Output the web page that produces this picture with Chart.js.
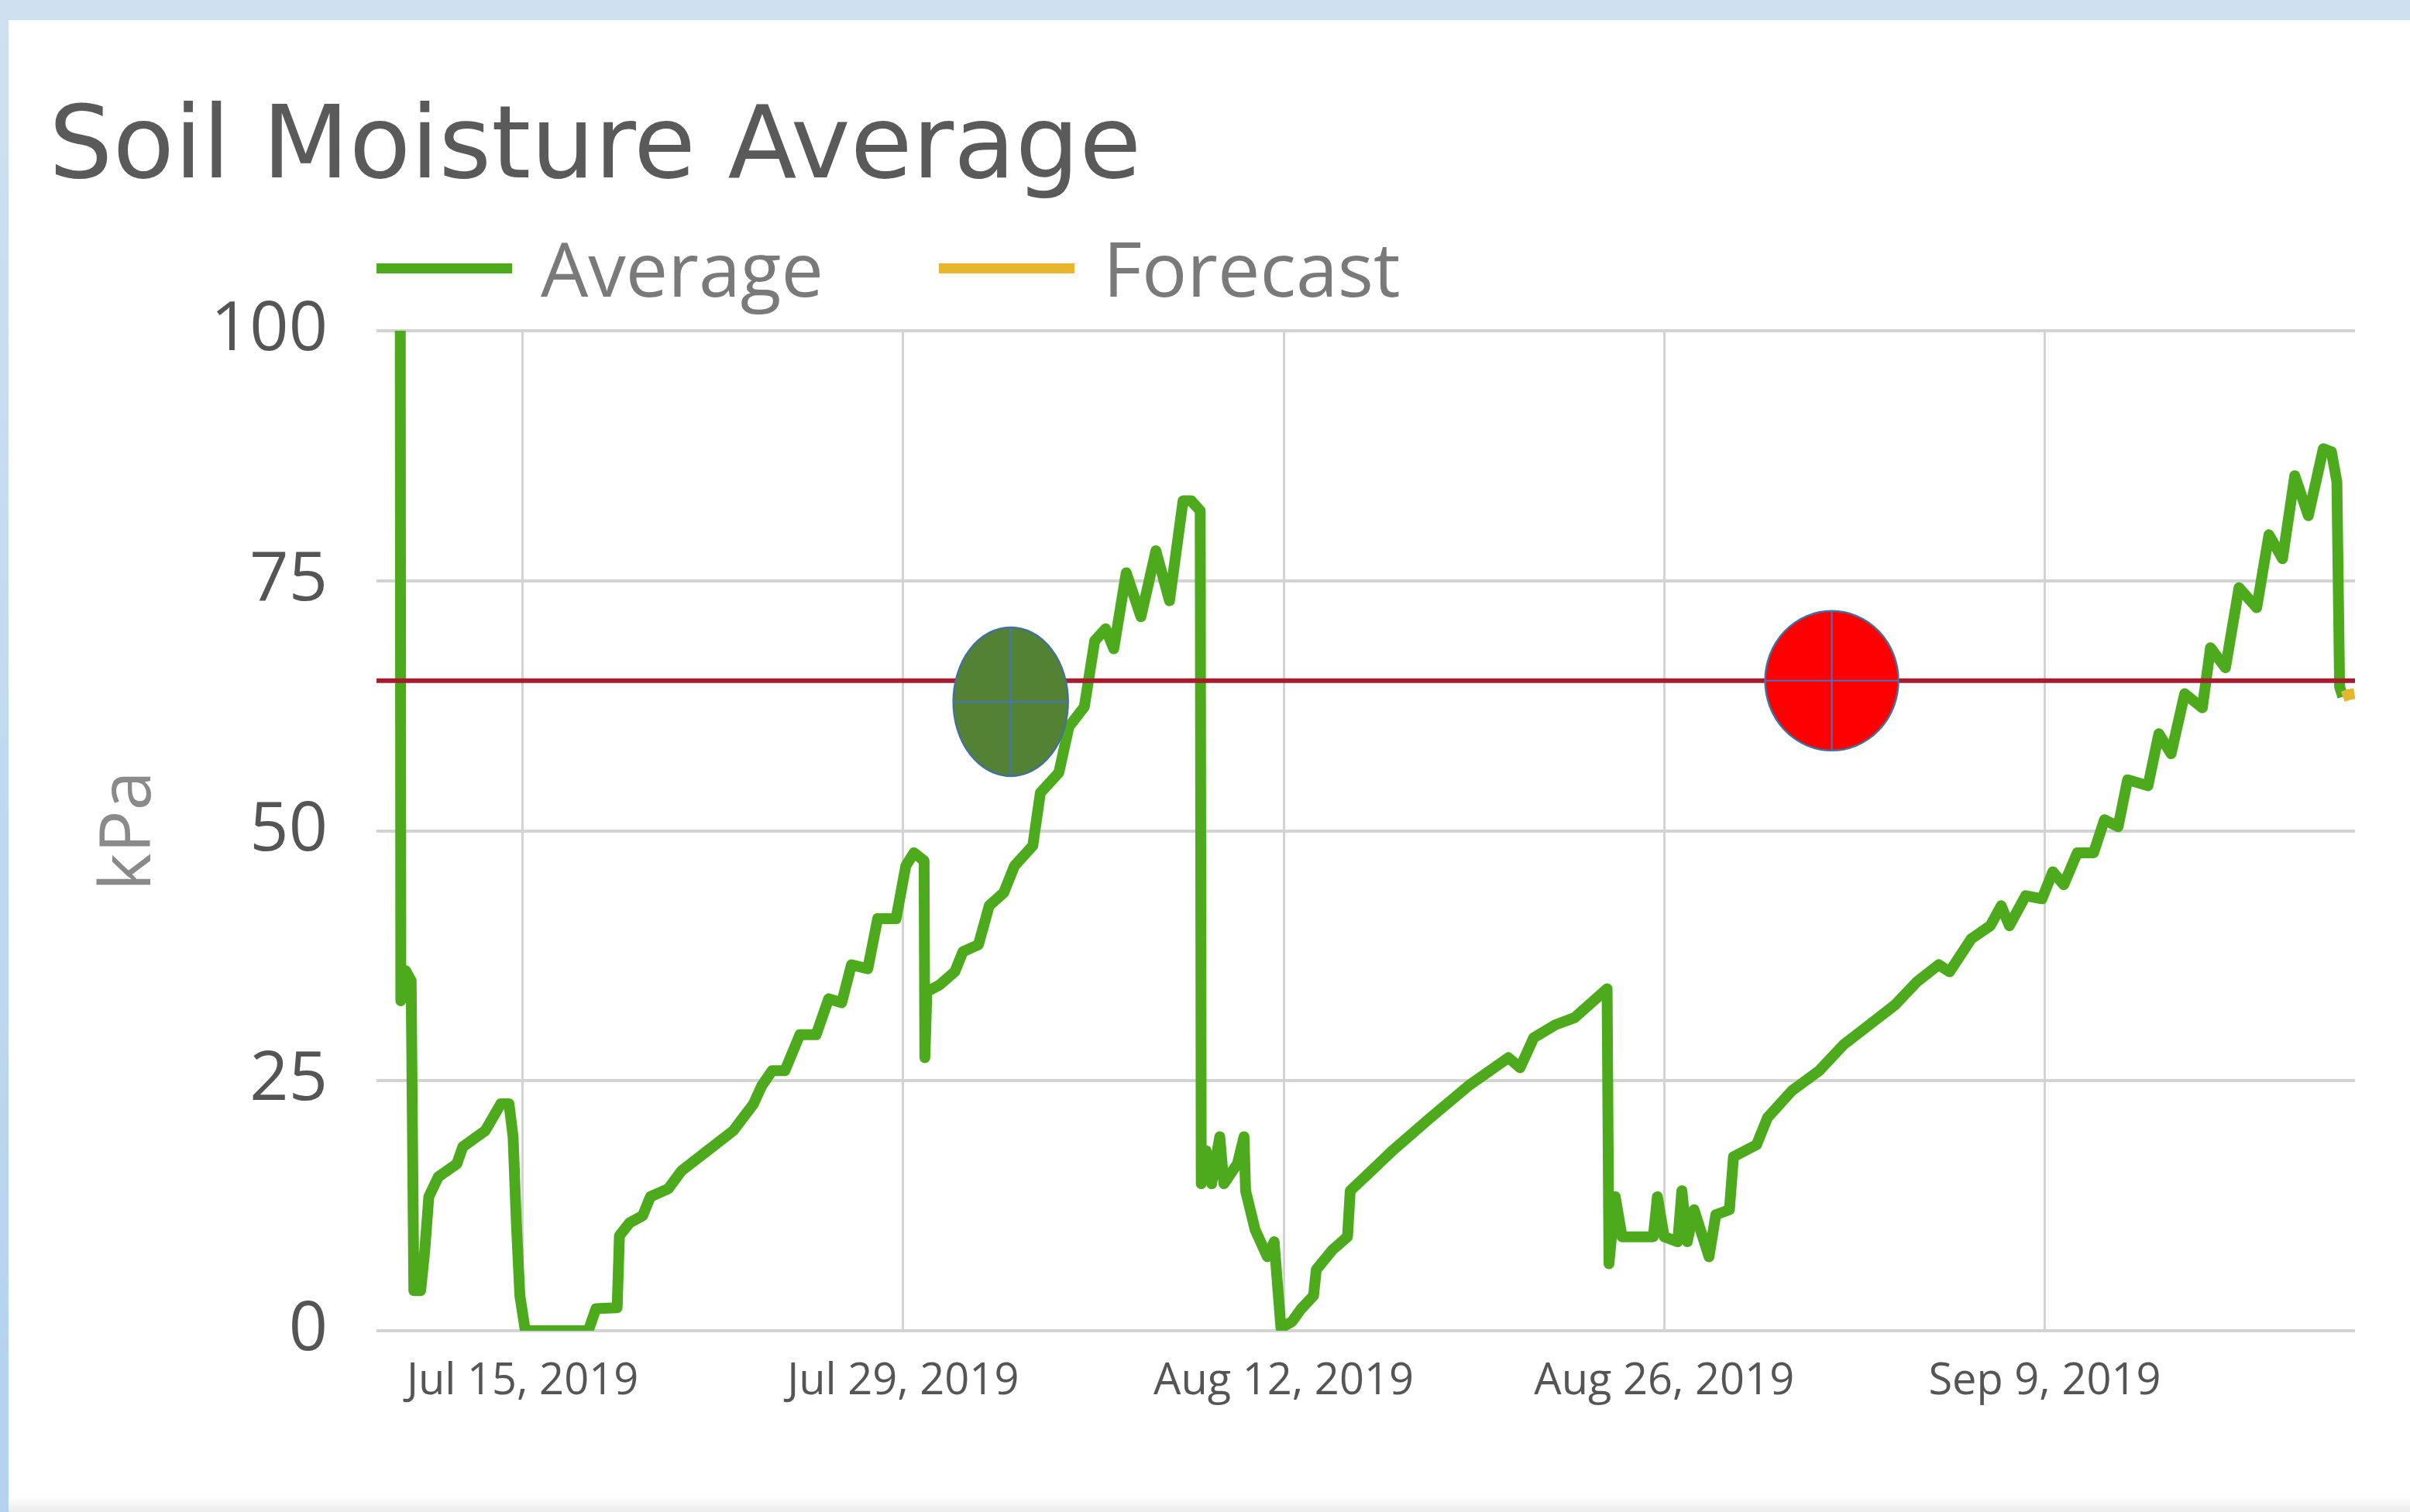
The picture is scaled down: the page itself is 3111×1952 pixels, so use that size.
<!DOCTYPE html>
<html>
<head>
<meta charset="utf-8">
<title>Soil Moisture Average</title>
<script src="https://cdn.jsdelivr.net/npm/chart.js@4.4.0/dist/chart.umd.min.js"></script>
<style>
    html, body { margin: 0; padding: 0; }
    body {
        width: 3111px; height: 1952px; position: relative; overflow: hidden;
        background: linear-gradient(#cfe0f1, #b3d2ee);
    }
    #panel {
        position: absolute; left: 11px; top: 26px; right: 0; bottom: 0;
        background: linear-gradient(to bottom, #fff 0, #fff 1906px, #ececec 1926px);
    }
    #chart { position: absolute; left: 0; top: 0; }
</style>
</head>
<body>
<div id="panel"></div>
<canvas id="chart" width="3111" height="1952"></canvas>
<script>
// readings (kPa)
const readingTimes = [
    '2019-07-10T12:00', '2019-07-10T12:30', '2019-07-10T16:48', '2019-07-10T21:36', '2019-07-11T00:00',
    '2019-07-11T06:00', '2019-07-11T09:36', '2019-07-11T13:12', '2019-07-11T21:36', '2019-07-12T14:00',
    '2019-07-12T19:12', '2019-07-13T15:00', '2019-07-14T04:48', '2019-07-14T12:00', '2019-07-14T15:36',
    '2019-07-14T18:30', '2019-07-14T21:36', '2019-07-15T02:24', '2019-07-17T10:00', '2019-07-17T16:48',
    '2019-07-18T11:30', '2019-07-18T13:30', '2019-07-18T22:30', '2019-07-19T10:00', '2019-07-19T16:48',
    '2019-07-20T08:40', '2019-07-20T20:24', '2019-07-21T19:12', '2019-07-22T18:00', '2019-07-23T12:00',
    '2019-07-23T19:12', '2019-07-24T04:20', '2019-07-24T15:36', '2019-07-25T04:48', '2019-07-25T19:12',
    '2019-07-26T06:15', '2019-07-26T17:45', '2019-07-27T02:24', '2019-07-27T16:48', '2019-07-28T01:30',
    '2019-07-28T17:45', '2019-07-29T02:24', '2019-07-29T09:36', '2019-07-29T18:30', '2019-07-29T19:12',
    '2019-07-29T21:00', '2019-07-30T08:24', '2019-07-30T21:36', '2019-07-31T04:48', '2019-07-31T18:30',
    '2019-08-01T04:00', '2019-08-01T16:48', '2019-08-02T02:24', '2019-08-02T18:30', '2019-08-03T01:12',
    '2019-08-03T17:30', '2019-08-04T02:24', '2019-08-04T16:00', '2019-08-05T01:12', '2019-08-05T10:48',
    '2019-08-05T18:00', '2019-08-06T05:00', '2019-08-06T18:00', '2019-08-07T07:12', '2019-08-07T19:12',
    '2019-08-08T07:12', '2019-08-08T14:24', '2019-08-08T22:20', '2019-08-08T23:15', '2019-08-09T03:36',
    '2019-08-09T08:24', '2019-08-09T15:36', '2019-08-09T19:12', '2019-08-10T07:12', '2019-08-10T13:00',
    '2019-08-10T14:24', '2019-08-10T22:48', '2019-08-11T09:36', '2019-08-11T15:36', '2019-08-11T21:36',
    '2019-08-12T07:12', '2019-08-12T15:36', '2019-08-13T02:24', '2019-08-13T04:48', '2019-08-13T19:12',
    '2019-08-14T08:24', '2019-08-14T10:48', '2019-08-15T00:00', '2019-08-16T00:00', '2019-08-17T09:36',
    '2019-08-18T20:24', '2019-08-20T06:30', '2019-08-20T16:48', '2019-08-21T04:48', '2019-08-22T00:00',
    '2019-08-22T16:48', '2019-08-23T21:36', '2019-08-23T23:15', '2019-08-24T04:48', '2019-08-24T10:48',
    '2019-08-25T14:24', '2019-08-25T18:00', '2019-08-26T00:00', '2019-08-26T12:00', '2019-08-26T15:36',
    '2019-08-26T20:24', '2019-08-27T02:24', '2019-08-27T15:36', '2019-08-27T21:36', '2019-08-28T09:36',
    '2019-08-28T13:12', '2019-08-29T09:36', '2019-08-29T19:12', '2019-08-30T16:48', '2019-08-31T16:48',
    '2019-09-01T14:24', '2019-09-02T13:12', '2019-09-03T12:00', '2019-09-04T07:12', '2019-09-05T02:24',
    '2019-09-05T12:00', '2019-09-06T07:12', '2019-09-07T00:00', '2019-09-07T09:36', '2019-09-07T16:48',
    '2019-09-08T07:12', '2019-09-08T21:36', '2019-09-09T07:12', '2019-09-09T16:48', '2019-09-10T04:48',
    '2019-09-10T19:12', '2019-09-11T04:48', '2019-09-11T16:48', '2019-09-12T01:12', '2019-09-12T19:12',
    '2019-09-13T04:48', '2019-09-13T15:36', '2019-09-14T03:36', '2019-09-14T19:12', '2019-09-15T02:24',
    '2019-09-15T15:36', '2019-09-16T03:36', '2019-09-16T19:12', '2019-09-17T06:00', '2019-09-17T18:00',
    '2019-09-18T04:48', '2019-09-18T16:48', '2019-09-19T06:00', '2019-09-19T13:12', '2019-09-19T18:00',
    '2019-09-19T20:24', '2019-09-19T23:15'
];
const averageKpa = [
    100, 33, 36, 35, 4,
    4, 8, 13.4, 15.4, 16.7,
    18.4, 20.0, 22.7, 22.7, 19.4,
    10.8, 3.5, 0, 0, 2.2,
    2.3, 9.5, 10.8, 11.5, 13.4,
    14.2, 16.0, 18.0, 20.0, 22.7,
    24.5, 26.0, 26.0, 29.6, 29.6,
    33.2, 32.8, 36.6, 36.2, 41.2,
    41.2, 46.5, 47.8, 47.0, 27.3,
    33.9, 34.6, 35.9, 37.9, 38.6,
    42.5, 43.8, 46.5, 48.5, 53.8,
    55.8, 60.4, 62.4, 69.0, 70.2,
    68.2, 75.8, 71.4, 78.0, 73.0,
    83.0, 83.0, 82.0, 14.7, 18.0,
    14.7, 19.4, 14.7, 16.7, 19.4,
    14.0, 10.1, 7.4, 8.9, 0.3,
    0.9, 2.2, 3.5, 6.1, 8.1,
    9.4, 14.0, 15.4, 18.0, 21.3,
    24.6, 27.3, 26.3, 29.3, 30.6,
    31.3, 34.2, 6.7, 13.4, 9.4,
    9.4, 13.4, 9.4, 8.9, 14.0,
    8.9, 12.1, 7.4, 11.6, 12.1,
    17.4, 18.6, 21.3, 24.0, 26.0,
    28.6, 30.6, 32.6, 34.9, 36.6,
    35.9, 39.2, 40.5, 42.5, 40.5,
    43.5, 43.2, 45.9, 44.6, 47.8,
    47.8, 51.1, 50.4, 55.1, 54.5,
    59.7, 57.7, 63.7, 62.3, 68.3,
    66.3, 74.3, 72.3, 79.6, 77.2,
    85.5, 81.5, 88.2, 87.9, 84.9,
    64.4, 63.4
];
const forecastTimes = ['2019-09-19T23:15', '2019-09-20T04:00', '2019-09-20T09:30'];
const forecastKpa = [63.4, 63.6, 63.7];
const thresholdKpa = 65;

const tickDates = ['2019-07-15T00:00', '2019-07-29T00:00', '2019-08-12T00:00', '2019-08-26T00:00', '2019-09-09T00:00'];
const tickLabels = ['Jul 15, 2019', 'Jul 29, 2019', 'Aug 12, 2019', 'Aug 26, 2019', 'Sep 9, 2019'];
const yTicks = [0, 25, 50, 75, 100];
const axisStart = '2019-07-09T15:00';
const axisEnd = '2019-09-20T10:00';

// the two hand-drawn marks on the picture
const markerTimes = ['2019-08-01T23:00', '2019-09-01T04:00'];
const markerKpa = [62.9, 65];

const ms = s => new Date(s).getTime();
const toPoints = (times, vals) => times.map((t, i) => ({ x: ms(t), y: vals[i] }));
const tickMs = tickDates.map(ms);

const markerFill = ['#548235', '#ff0000'];
const markerRadius = [[74, 96], [86, 90]];

const legendLines = {
    id: 'legendLines',
    afterDraw(chart) {
        const ctx = chart.ctx;
        const area = chart.chartArea;
        let x = area.left;
        ctx.save();
        ctx.font = "97px 'Open Sans'";
        ctx.textBaseline = 'alphabetic';
        chart.data.datasets.forEach(ds => {
            if (!ds.inLegend) return;
            ctx.fillStyle = ds.borderColor;
            ctx.fillRect(x, area.top - 87, 175, 13);
            x += 175 + 37;
            ctx.fillStyle = '#7a7a7a';
            ctx.fillText(ds.label, x, area.top - 44);
            x += ctx.measureText(ds.label).width + 149;
        });
        ctx.restore();
    }
};

const ellipseMarks = {
    id: 'ellipseMarks',
    afterDatasetsDraw(chart) {
        const ctx = chart.ctx;
        const xs = chart.scales.x, ys = chart.scales.y;
        ctx.save();
        markerTimes.forEach((t, i) => {
            const cx = xs.getPixelForValue(ms(t));
            const cy = ys.getPixelForValue(markerKpa[i]);
            const [rx, ry] = markerRadius[i];
            ctx.beginPath();
            ctx.ellipse(cx, cy, rx, ry, 0, 0, Math.PI * 2);
            ctx.fillStyle = markerFill[i];
            ctx.fill();
            ctx.lineWidth = 2.5;
            ctx.strokeStyle = '#41719c';
            ctx.stroke();
            ctx.beginPath();
            ctx.moveTo(cx - rx, cy);
            ctx.lineTo(cx + rx, cy);
            ctx.moveTo(cx, cy - ry);
            ctx.lineTo(cx, cy + ry);
            ctx.lineWidth = 2;
            ctx.strokeStyle = '#4472c4';
            ctx.stroke();
        });
        ctx.restore();
    }
};

Chart.defaults.font.family = "'Open Sans', sans-serif";
Chart.defaults.color = '#555';

const ctx = document.getElementById('chart').getContext('2d');
const chart = new Chart(ctx, {
    type: 'line',
    data: {
        datasets: [{
            label: 'Average',
            data: toPoints(readingTimes, averageKpa),
            borderColor: '#4caa1c',
            backgroundColor: '#4caa1c',
            borderWidth: 14,
            pointRadius: 0,
            tension: 0,
            borderJoinStyle: 'round',
            order: 2,
            inLegend: true
        }, {
            label: 'Forecast',
            data: toPoints(forecastTimes, forecastKpa),
            borderColor: '#e8b62c',
            backgroundColor: '#e8b62c',
            borderWidth: 14,
            pointRadius: 0,
            order: 1,
            inLegend: true
        }, {
            label: 'Threshold',
            data: [{ x: ms(axisStart), y: thresholdKpa }, { x: ms(axisEnd), y: thresholdKpa }],
            borderColor: '#a31d2e',
            borderWidth: 6,
            pointRadius: 0,
            order: 0,
            inLegend: false
        }]
    },
    options: {
        responsive: false,
        animation: false,
        events: [],
        layout: { padding: { left: 63, right: 71, top: 0, bottom: 0 } },
        plugins: {
            legend: { display: false },
            tooltip: { enabled: false },
            title: {
                display: true,
                text: 'Soil Moisture Average',
                align: 'start',
                color: '#5a5a5a',
                font: { family: "'DejaVu Sans', sans-serif", size: 130, weight: 'normal' },
                padding: { top: 117, bottom: 154 }
            }
        },
        scales: {
            x: {
                type: 'linear',
                min: ms(axisStart),
                max: ms(axisEnd),
                afterBuildTicks: scale => { scale.ticks = tickMs.map(v => ({ value: v })); },
                afterFit: scale => { scale.height = 234; },
                grid: { color: '#d3d3d3', lineWidth: 3, drawTicks: false },
                border: { display: false },
                ticks: {
                    padding: 32,
                    maxRotation: 0,
                    autoSkip: false,
                    color: '#555',
                    font: { size: 56 },
                    callback: v => tickLabels[tickMs.indexOf(v)]
                }
            },
            y: {
                min: 0,
                max: 100,
                afterBuildTicks: scale => { scale.ticks = yTicks.map(v => ({ value: v })); },
                afterFit: scale => { scale.width = 423; },
                grid: { color: '#d3d3d3', lineWidth: 4, drawTicks: false },
                border: { display: false },
                title: {
                    display: true,
                    text: 'kPa',
                    color: '#8a8a8a',
                    font: { size: 92 },
                    padding: { top: 50, bottom: 0 }
                },
                ticks: {
                    padding: 63,
                    color: '#555',
                    font: { size: 88 }
                }
            }
        }
    },
    plugins: [legendLines, ellipseMarks]
});
</script>
</body>
</html>
